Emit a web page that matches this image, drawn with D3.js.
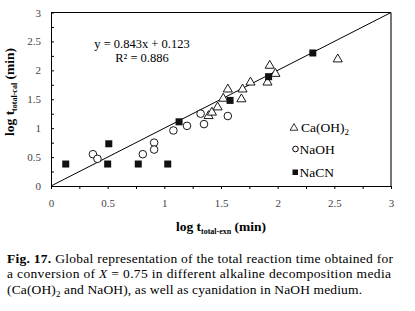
<!DOCTYPE html>
<html>
<head>
<meta charset="utf-8">
<script src="https://cdn.jsdelivr.net/npm/d3@7"></script>
<style>
  body { margin: 0; background: #fff; }
  svg { display: block; }
  svg text { font-family: 'Liberation Serif', 'Times New Roman', Times, 'DejaVu Serif', serif !important; }
</style>
</head>
<body>
<svg id="chart" width="415" height="311"></svg>
<script>
// log t_exp, log t_cal for each medium
let caX = [1.39, 1.42, 1.47, 1.52, 1.56, 1.68, 1.69, 1.76, 1.91, 1.93, 1.98, 2.53]
let caY = [1.22, 1.28, 1.37, 1.52, 1.68, 1.51, 1.68, 1.80, 1.80, 2.09, 1.95, 2.20]

let naohX = [0.37, 0.41, 0.81, 0.91, 0.91, 1.08, 1.20, 1.32, 1.35, 1.56]
let naohY = [0.55, 0.47, 0.55, 0.75, 0.63, 0.96, 1.04, 1.25, 1.07, 1.21]

let nacnX = [0.13, 0.50, 0.51, 0.77, 1.03, 1.13, 1.58, 1.92, 2.31]
let nacnY = [0.38, 0.38, 0.73, 0.38, 0.38, 1.11, 1.48, 1.89, 2.30]

let tickVals = [0, 0.25, 0.5, 0.75, 1, 1.25, 1.5, 1.75, 2, 2.25, 2.5, 2.75, 3]
let tickLabels = ["0", "", "0.5", "", "1", "", "1.5", "", "2", "", "2.5", "", "3"]

let caption = [
  "Global representation of the total reaction time obtained for",
  "a conversion of X = 0.75 in different alkaline decomposition media",
  "(Ca(OH)2 and NaOH), as well as cyanidation in NaOH medium."
]

let svg = d3.select("#chart")

let x = d3.scaleLinear().domain([0, 3]).range([51, 391])
let y = d3.scaleLinear().domain([0, 3]).range([186, 12.5])

let fmt = (d) => tickLabels[tickVals.indexOf(d)]

// frame top + right
svg.append("line").attr("x1", x(0)).attr("x2", x(3)).attr("y1", y(3)).attr("y2", y(3))
  .attr("stroke", "#000").attr("stroke-width", 1)
svg.append("line").attr("x1", x(3)).attr("x2", x(3)).attr("y1", y(3)).attr("y2", y(0))
  .attr("stroke", "#777").attr("stroke-width", 2)

let gx = svg.append("g")
  .attr("transform", "translate(0," + y(0) + ")")
  .call(d3.axisBottom(x).tickValues(tickVals).tickFormat(fmt).tickSize(3).tickPadding(10))
gx.select(".domain").attr("stroke", "#000")
gx.selectAll("text").attr("font-size", "11px").attr("fill", "#444")

let gy = svg.append("g")
  .attr("transform", "translate(" + x(0) + ",0)")
  .call(d3.axisLeft(y).tickValues(tickVals).tickFormat(fmt).tickSizeInner(-3).tickSizeOuter(0).tickPadding(10))
gy.select(".domain").attr("stroke", "#000")
gy.selectAll("text").attr("font-size", "11px").attr("fill", "#444")

// 1:1 line
svg.append("line")
  .attr("x1", x(0)).attr("y1", y(0)).attr("x2", x(3)).attr("y2", y(3))
  .attr("stroke", "#000").attr("stroke-width", 1)

// markers
let tri = d3.symbol().type(d3.symbolTriangle).size(36)

svg.selectAll(".ca")
  .data(caX.map((d, i) => [d, caY[i]]))
  .enter().append("path")
  .attr("d", tri)
  .attr("transform", (d) => "translate(" + x(d[0]) + "," + (y(d[1]) + 0.5) + ")")
  .attr("fill", "#fff").attr("stroke", "#000").attr("stroke-width", 0.9)

svg.selectAll(".naoh")
  .data(naohX.map((d, i) => [d, naohY[i]]))
  .enter().append("circle")
  .attr("cx", (d) => x(d[0])).attr("cy", (d) => y(d[1])).attr("r", 3.8)
  .attr("fill", "#fff").attr("stroke", "#000").attr("stroke-width", 0.9)

svg.selectAll(".nacn")
  .data(nacnX.map((d, i) => [d, nacnY[i]]))
  .enter().append("rect")
  .attr("x", (d) => x(d[0]) - 3.5).attr("y", (d) => y(d[1]) - 3.5)
  .attr("width", 7).attr("height", 7)
  .attr("fill", "#111")

// equation
svg.append("text").attr("x", 142).attr("y", 48).attr("text-anchor", "middle")
  .attr("font-size", "12.5px").text("y = 0.843x + 0.123")
svg.append("text").attr("x", 142).attr("y", 62).attr("text-anchor", "middle")
  .attr("font-size", "12.5px").text("R\u00b2 = 0.886")

// legend
let leg = svg.append("g").attr("font-size", "13.5px")
leg.append("path").attr("d", d3.symbol().type(d3.symbolTriangle).size(26))
  .attr("transform", "translate(294,128)").attr("fill", "#fff").attr("stroke", "#000").attr("stroke-width", 0.8)
let t1 = leg.append("text").attr("x", 301).attr("y", 131.5)
t1.append("tspan").text("Ca(OH)")
t1.append("tspan").attr("font-size", "9px").attr("dy", 3).text("2")
leg.append("circle").attr("cx", 295.5).attr("cy", 149).attr("r", 2.8)
  .attr("fill", "#fff").attr("stroke", "#000").attr("stroke-width", 1)
leg.append("text").attr("x", 299.5).attr("y", 153.5).text("NaOH")
leg.append("rect").attr("x", 292.5).attr("y", 169.5).attr("width", 5.5).attr("height", 5.5).attr("fill", "#111")
leg.append("text").attr("x", 299.5).attr("y", 176.5).text("NaCN")

// axis titles
let xt = svg.append("text").attr("x", 221).attr("y", 231).attr("text-anchor", "middle")
  .attr("font-weight", "bold").attr("font-size", "13.5px")
xt.append("tspan").text("log t")
xt.append("tspan").attr("font-size", "8px").attr("dy", 3).text("total-exn")
xt.append("tspan").attr("dy", -3).text(" (min)")

let yt = svg.append("text").attr("transform", "translate(14,92) rotate(-90)").attr("text-anchor", "middle")
  .attr("font-weight", "bold").attr("font-size", "13.5px")
yt.append("tspan").text("log t")
yt.append("tspan").attr("font-size", "8px").attr("dy", 3).text("total-cal")
yt.append("tspan").attr("dy", -3).text(" (min)")

// caption
let cap = svg.append("g").attr("font-size", "13.5px")
let c1 = cap.append("text").attr("x", 7).attr("y", 263).attr("textLength", 386).attr("lengthAdjust", "spacing")
c1.append("tspan").attr("font-weight", "bold").text("Fig. 17. ")
c1.append("tspan").text(caption[0])
let c2 = cap.append("text").attr("x", 7).attr("y", 278).attr("textLength", 384).attr("lengthAdjust", "spacing")
c2.append("tspan").text("a conversion of ")
c2.append("tspan").attr("font-style", "italic").text("X")
c2.append("tspan").text(" = 0.75 in different alkaline decomposition media")
let c3 = cap.append("text").attr("x", 7).attr("y", 294).attr("textLength", 355).attr("lengthAdjust", "spacing")
c3.append("tspan").text("(Ca(OH)")
c3.append("tspan").attr("font-size", "9px").attr("dy", 3).text("2")
c3.append("tspan").attr("dy", -3).text(" and NaOH), as well as cyanidation in NaOH medium.")
</script>
</body>
</html>
